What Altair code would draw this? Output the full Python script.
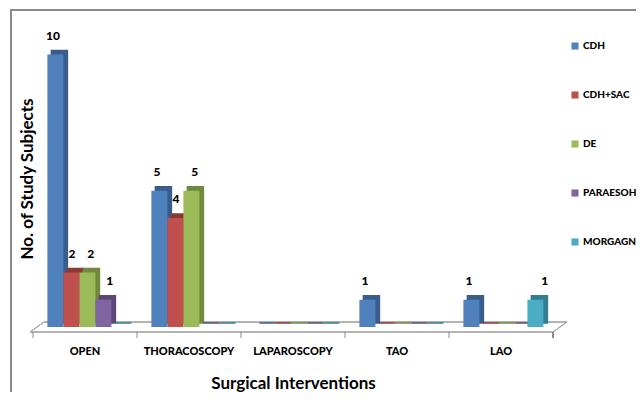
import altair as alt
import pandas as pd

groups = ["OPEN", "THORACOSCOPY", "LAPAROSCOPY", "TAO", "LAO"]
series = ["CDH", "CDH+SAC", "DE", "PARAESOH", "MORGAGN"]
cdh = [10, 5, 0, 1, 1]
cdh_sac = [2, 4, 0, 0, 0]
de = [2, 5, 0, 0, 0]
paraesoh = [1, 0, 0, 0, 0]
morgagn = [0, 0, 0, 0, 1]

colors = ["#4F81BD", "#C0504D", "#9BBB59", "#8064A2", "#4BACC6"]
dark_colors = ["#385D8A", "#8C3836", "#71893F", "#5C4776", "#357D91"]

vals = [cdh, cdh_sac, de, paraesoh, morgagn]
rows = []
for si, s in enumerate(series):
    for gi, g in enumerate(groups):
        rows.append({"group": g, "series": s, "value": vals[si][gi],
                     "dark": dark_colors[si]})
df = pd.DataFrame(rows)
gdf = pd.DataFrame({"group": groups})

W, H = 520, 297
STEP = W / len(groups)
FONT = "Lato"
DEPTH = 4

xsc = alt.Scale(domain=groups, paddingInner=0, paddingOuter=0)
xoff_front = alt.Scale(domain=series, paddingInner=0, paddingOuter=0.75, align=0.6,
                       range=[0, STEP])
xoff_back = alt.Scale(domain=series, paddingInner=0, paddingOuter=0.75, align=0.6,
                      range=[DEPTH, STEP + DEPTH])
ysc = alt.Scale(domain=[0, 10.9], nice=False)

xaxis = alt.Axis(title="Surgical Interventions", labelAngle=0, domain=False,
                 ticks=False, labelPadding=18, labelFont=FONT,
                 labelFontWeight=900, labelFontSize=11, labelColor="#000",
                 titleFont=FONT, titleFontSize=17, titleFontWeight="bold",
                 titleColor="#000", titleY=56, titleBaseline="middle")
X = alt.X("group:N", scale=xsc, sort=groups, axis=xaxis)
Y = alt.Y("value:Q", scale=ysc,
          axis=alt.Axis(title="No. of Study Subjects", labels=False, ticks=False,
                        domain=False, grid=False, titleFont=FONT, titleFontSize=17,
                        titleFontWeight="bold", titleColor="#000", titleX=-6,
                        titleY=H / 2, titleAngle=-90, titleAlign="center",
                        titleBaseline="middle"))

frame = alt.Chart(gdf).mark_rect(fill=None, stroke="#8a8a8a", strokeWidth=1.5).encode(
    x=alt.value(-22), x2=alt.value(900), y=alt.value(-20), y2=alt.value(900))

fl = "#b0b0b0"
floor_front = alt.Chart(gdf).mark_rule(color=fl).encode(
    x=alt.value(-3), x2=alt.value(W), y=alt.value(H + 5))
floor_back = alt.Chart(gdf).mark_rule(color=fl).encode(
    x=alt.value(11), x2=alt.value(W + 14), y=alt.value(H - 5))
floor_left = alt.Chart(gdf).mark_rule(color=fl).encode(
    x=alt.value(-3), x2=alt.value(11), y=alt.value(H + 5), y2=alt.value(H - 5))
floor_right = alt.Chart(gdf).mark_rule(color=fl).encode(
    x=alt.value(W), x2=alt.value(W + 14), y=alt.value(H + 5), y2=alt.value(H - 5))
ticks = alt.Chart(gdf).mark_rule(color="#8a8a8a").encode(
    x=alt.X("group:N", scale=xsc, sort=groups, bandPosition=0, axis=xaxis),
    y=alt.value(H + 5), y2=alt.value(H + 11))
end_tick = alt.Chart(gdf).mark_rule(color="#8a8a8a").encode(
    x=alt.value(W), y=alt.value(H + 5), y2=alt.value(H + 11))

back = alt.Chart(df).mark_bar(yOffset=-DEPTH, strokeWidth=1.5).encode(
    x=X, xOffset=alt.XOffset("series:N", scale=xoff_back, sort=series), y=Y,
    fill=alt.Fill("dark:N", scale=None),
    stroke=alt.Stroke("dark:N", scale=None))

front = alt.Chart(df).mark_bar().encode(
    x=X, xOffset=alt.XOffset("series:N", scale=xoff_front, sort=series), y=Y,
    color=alt.Color("series:N", sort=series,
                    scale=alt.Scale(domain=series, range=colors),
                    legend=alt.Legend(title=None, orient="none", legendX=537,
                                      legendY=11, symbolType="square",
                                      symbolSize=50, symbolStrokeWidth=0,
                                      rowPadding=39, labelFont=FONT,
                                      labelFontWeight=900, labelFontSize=10,
                                      labelColor="#000", labelOffset=3)))

labels = alt.Chart(df).transform_filter("datum.value > 0").mark_text(
    dy=-19, dx=3, font=FONT, fontWeight=900, fontSize=12, color="#000").encode(
    x=X, xOffset=alt.XOffset("series:N", scale=xoff_front, sort=series), y=Y,
    text="value:Q")

chart = alt.layer(frame, floor_back, floor_left, floor_right, floor_front, ticks,
                  end_tick, back, front, labels).resolve_scale(
    xOffset="independent").properties(
    width=W, height=H,
    padding={"left": 25, "top": 22, "right": 83, "bottom": 65},
    autosize=alt.AutoSizeParams(type="none"),
).configure_view(stroke=None)

chart.save("out.html", embed_options={"renderer": "svg", "actions": False})
